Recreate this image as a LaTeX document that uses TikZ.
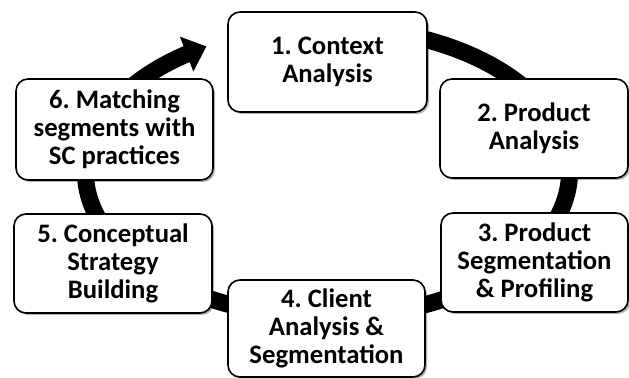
\documentclass[tikz,border=0pt]{standalone}
\usepackage{fontspec}
\setmainfont{Carlito}
\usetikzlibrary{arrows.meta,bending,shadows,calc}
\frenchspacing
\begin{document}
\begin{tikzpicture}[x=0.75pt,y=0.75pt,
  stage/.style={draw=black, line width=1.2pt, fill=white, rounded corners=9pt,
    align=center, inner sep=0pt,
    font=\bfseries\fontsize{20}{21}\selectfont,
    drop shadow={shadow xshift=1.5pt, shadow yshift=-1.5pt, opacity=0.3, fill=black}},
  ring/.style={line width=12.75pt, black, -{Triangle[width=27pt,length=16pt]}}]
\useasboundingbox (0,0) rectangle (629,378);
% centre of the cycle
\coordinate (ringc) at (327.5,206);
% the thick cycle arrow, running clockwise from step 1 back to step 1
\draw[ring] ($(ringc)+(80:242 and 145)$)
  arc[start angle=80, end angle=-240, x radius=242, y radius=145];
% the six steps
\node[stage, minimum width=149.25pt, minimum height=75pt]    (s1) at (327.5,316)   {1. Context\\Analysis};
\node[stage, minimum width=141pt,    minimum height=74.25pt] (s2) at (534,249.5)   {2. Product\\Analysis};
\node[stage, minimum width=140.25pt, minimum height=74.25pt] (s3) at (534.5,115.5) {3. Product\\Segmentation\\\& Profiling};
\node[stage, minimum width=147.75pt, minimum height=72.75pt] (s4) at (326.5,49.5)  {4. Client\\Analysis \&\\Segmentation};
\node[stage, minimum width=148.5pt,  minimum height=74.25pt] (s5) at (113,114.5)   {5. Conceptual\\Strategy\\Building};
\node[stage, minimum width=147.75pt, minimum height=75.75pt] (s6) at (114.5,248.5) {6. Matching\\segments with\\SC practices};
\end{tikzpicture}
\end{document}
